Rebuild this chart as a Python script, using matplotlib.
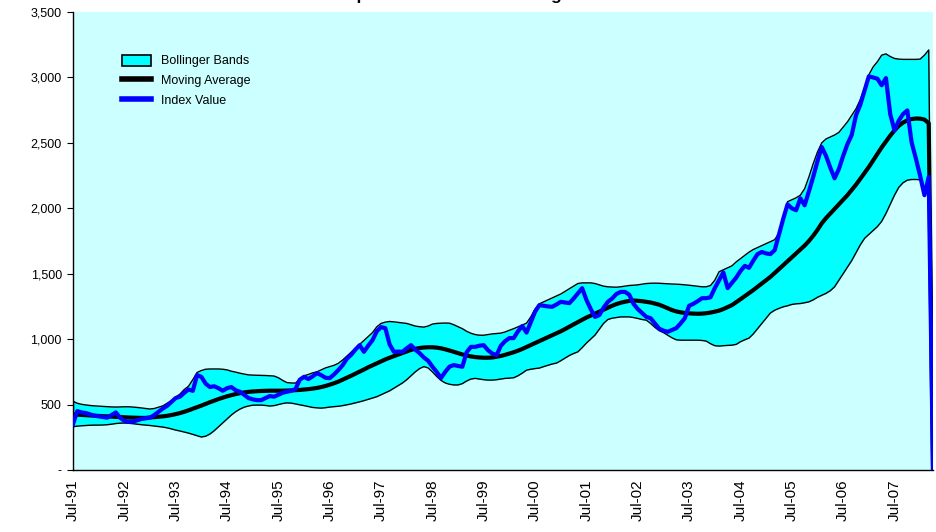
import matplotlib
matplotlib.use("Agg")
import matplotlib.pyplot as plt
from matplotlib.patches import Patch
from matplotlib.lines import Line2D
import numpy as np

plt.rcParams['font.family'] = ['Liberation Sans', 'DejaVu Sans']

# Monthly data, Jul-91 .. Apr-08 (last value blank -> 0)
index_value = [
    350, 450, 440, 435, 425, 415, 410, 405, 400, 420, 440, 400,
    375, 368, 370, 380, 390, 395, 400, 420, 445, 470, 490, 520,
    550, 560, 590, 615, 605, 725, 712, 660, 634, 640, 625, 606,
    625, 634, 610, 598, 575, 550, 540, 534, 534, 550, 565, 560,
    575, 590, 598, 605, 618, 690, 712, 695, 715, 740, 725, 705,
    702, 730, 763, 800, 850, 880, 920, 954, 903, 950, 992, 1060,
    1092, 1084, 960, 903, 905, 903, 930, 954, 920, 893, 860, 835,
    790, 750, 702, 750, 790, 802, 795, 789, 900, 941, 941, 950,
    954, 915, 890, 878, 950, 985, 1008, 1008, 1060, 1100, 1050, 1130,
    1210, 1260, 1255, 1250, 1247, 1265, 1285, 1280, 1275, 1310, 1350, 1389,
    1300, 1230, 1170, 1183, 1240, 1285, 1310, 1345, 1361, 1361, 1340, 1270,
    1230, 1200, 1170, 1160, 1120, 1080, 1065, 1056, 1070, 1084, 1120, 1160,
    1255, 1270, 1290, 1313, 1313, 1320, 1390, 1450, 1510, 1390, 1430, 1470,
    1520, 1560, 1545, 1600, 1650, 1666, 1655, 1650, 1680, 1800, 1920, 2030,
    2000, 1985, 2076, 2023, 2130, 2240, 2360, 2468, 2400, 2310, 2229, 2300,
    2400, 2490, 2560, 2710, 2790, 2900, 3008, 3000, 2990, 2940, 2995, 2720,
    2595, 2670, 2720, 2748, 2504, 2380, 2247, 2100, 2240, 0,
]

moving_average = [
    425, 423, 421, 419, 417, 415, 413, 411, 410, 408, 406, 405,
    403, 401, 400, 399, 398, 398, 402, 404, 407, 410, 414, 420,
    427, 435, 445, 456, 468, 480, 492, 505, 518, 530, 542, 553,
    563, 572, 580, 587, 593, 597, 600, 602, 604, 605, 606, 606,
    606, 606, 607, 608, 610, 612, 615, 618, 622, 627, 634, 642,
    652, 663, 675, 690, 705, 720, 736, 752, 768, 785, 800, 815,
    830, 845, 858, 870, 882, 894, 906, 918, 926, 932, 936, 938,
    938, 935, 930, 922, 913, 903, 893, 883, 875, 868, 863, 860,
    858, 858, 860, 865, 872, 880, 890, 900, 912, 925, 940, 955,
    970, 985, 1000, 1015, 1030, 1045, 1060, 1077, 1095, 1113, 1130, 1148,
    1165, 1180, 1195, 1210, 1225, 1240, 1255, 1268, 1278, 1286, 1292, 1295,
    1293, 1290, 1285, 1280, 1272, 1263, 1250, 1236, 1222, 1212, 1205, 1200,
    1197, 1195, 1194, 1195, 1198, 1203, 1210, 1218, 1230, 1245, 1260, 1282,
    1305, 1328, 1351, 1375, 1400, 1425, 1450, 1476, 1505, 1535, 1565, 1595,
    1625, 1655, 1685, 1715, 1750, 1790, 1835, 1885, 1925, 1960, 1995, 2030,
    2065, 2100, 2140, 2180, 2225, 2270, 2315, 2365, 2415, 2465, 2510, 2555,
    2595, 2630, 2655, 2672, 2682, 2686, 2685, 2678, 2650, 0,
]

upper_band = [
    525, 510, 502, 497, 493, 490, 488, 486, 484, 482, 481, 482,
    483, 483, 481, 478, 474, 470, 466, 470, 480, 490, 510, 530,
    557, 580, 615, 640, 690, 745, 760, 770, 772, 772, 772, 770,
    765, 755, 748, 740, 733, 727, 725, 724, 723, 722, 720, 718,
    705, 685, 668, 665, 664, 695, 720, 730, 742, 750, 765, 780,
    790, 800, 815, 840, 870, 900, 930, 960, 990, 1020, 1050, 1094,
    1120, 1130, 1135, 1132, 1128, 1124, 1120, 1110, 1100, 1095, 1092, 1100,
    1115, 1120, 1122, 1123, 1122, 1110, 1095, 1080, 1060, 1045, 1035, 1030,
    1030, 1035, 1040, 1043, 1046, 1055, 1068, 1080, 1094, 1108, 1122, 1170,
    1230, 1270, 1285, 1300, 1315, 1330, 1345, 1365, 1385, 1405, 1425, 1430,
    1430, 1430, 1425, 1415, 1405, 1400, 1398, 1397, 1400, 1405, 1410, 1412,
    1415, 1420, 1425, 1427, 1428, 1427, 1425, 1423, 1421, 1420, 1418, 1415,
    1412, 1408, 1404, 1400, 1400, 1410, 1450, 1515, 1530, 1545, 1560, 1590,
    1615, 1640, 1665, 1685, 1700, 1715, 1730, 1745, 1760, 1810, 1930, 2050,
    2065, 2080, 2100, 2150, 2240, 2340, 2430, 2500, 2530, 2545, 2560, 2580,
    2620, 2660, 2710, 2760, 2830, 2920, 3020, 3080, 3120, 3170, 3180, 3160,
    3145, 3140, 3138, 3138, 3138, 3138, 3140, 3170, 3210, 0,
]

lower_band = [
    331, 335, 338, 340, 342, 343, 343, 344, 346, 350, 355, 358,
    359, 357, 354, 350, 346, 343, 340, 336, 332, 328, 322, 314,
    305, 298, 290, 282, 272, 262, 252, 258, 275, 300, 330, 360,
    390, 420, 445, 465, 480, 489, 495, 496, 496, 493, 489, 492,
    500, 508, 513, 511, 505, 498, 492, 485, 478, 475, 473, 476,
    481, 484, 487, 492, 498, 505, 513, 521, 530, 540, 550, 560,
    575, 590, 605, 625, 645, 665, 690, 720, 750, 775, 790, 780,
    750, 715, 685, 665, 655, 650, 650, 660, 680, 695, 700, 695,
    690, 687, 687, 690, 695, 700, 702, 705, 720, 740, 763, 770,
    775, 779, 790, 800, 810, 817, 835, 855, 875, 890, 903, 935,
    970, 1000, 1031, 1075, 1120, 1150, 1160, 1165, 1170, 1170, 1170, 1165,
    1158, 1150, 1145, 1120, 1090, 1065, 1050, 1030, 1010, 995, 992, 992,
    992, 992, 992, 990, 985, 965, 950, 947, 950, 952, 954, 960,
    980, 995, 1008, 1040, 1080, 1120, 1160, 1200, 1221, 1235, 1247, 1255,
    1265, 1270, 1272, 1278, 1285, 1300, 1320, 1335, 1350, 1370, 1400, 1450,
    1500, 1550, 1600, 1660, 1720, 1770, 1800, 1830, 1860, 1900, 1960, 2030,
    2100, 2160, 2195, 2215, 2220, 2220, 2218, 2160, 2100, 0,
]

tick_labels = ["Jul-91", "Jul-92", "Jul-93", "Jul-94", "Jul-95", "Jul-96",
               "Jul-97", "Jul-98", "Jul-99", "Jul-00", "Jul-01", "Jul-02",
               "Jul-03", "Jul-04", "Jul-05", "Jul-06", "Jul-07"]
y_ticks = [0, 500, 1000, 1500, 2000, 2500, 3000, 3500]
y_labels = ["-", "500", "1,000", "1,500", "2,000", "2,500", "3,000", "3,500"]

n = len(index_value)
x = np.arange(n)

W, H = 937, 532
fig = plt.figure(figsize=(W / 100, H / 100), dpi=100)
ax = fig.add_axes([73 / W, (H - 470) / H, (933 - 73) / W, (470 - 12) / H])
ax.set_facecolor("#CCFFFF")

ax.fill_between(x, lower_band, upper_band, color="#00FFFF", lw=0, zorder=1)
ax.plot(x, upper_band, color="black", lw=1.0, zorder=2)
ax.plot(x, lower_band, color="black", lw=1.0, zorder=2)
ax.plot([0, 0], [lower_band[0], upper_band[0]], color="black", lw=1.0, zorder=2)
ax.plot(x, moving_average, color="black", lw=3.0, zorder=3, solid_joinstyle="round")
ax.plot(x, index_value, color="#0000FF", lw=3.0, zorder=4, solid_joinstyle="round")

ax.set_xlim(0, n - 1)
ax.set_ylim(0, 3500)
ax.set_yticks(y_ticks)
ax.set_yticklabels(y_labels)
ax.set_xticks(np.arange(0, n, 12)[:len(tick_labels)])
ax.set_xticklabels(tick_labels, rotation=90)
ax.tick_params(axis="y", direction="out", length=4, width=0.8, labelsize=9, pad=4)
ax.tick_params(axis="x", length=0, labelsize=11, pad=7)

for s in ["top", "right"]:
    ax.spines[s].set_visible(False)
for s in ["left", "bottom"]:
    ax.spines[s].set_color("black")
    ax.spines[s].set_linewidth(1.0)

handles = [
    Patch(facecolor="#00FFFF", edgecolor="black", linewidth=1.2),
    Line2D([0], [0], color="black", lw=4),
    Line2D([0], [0], color="#0000FF", lw=4),
]
ax.legend(handles, ["Bollinger Bands", "Moving Average", "Index Value"],
          loc="upper left", bbox_to_anchor=(0.057, 0.907), frameon=False,
          fontsize=9, handlelength=2.3, handleheight=1.0, labelspacing=0.55,
          handletextpad=0.8, borderaxespad=0, borderpad=0)

fig.text(0.509, 1.0, "Composite Index with Bollinger Bands", ha="center",
         va="baseline", fontsize=12.5, fontweight="bold")

fig.savefig("out.png", dpi=100, facecolor="white")
